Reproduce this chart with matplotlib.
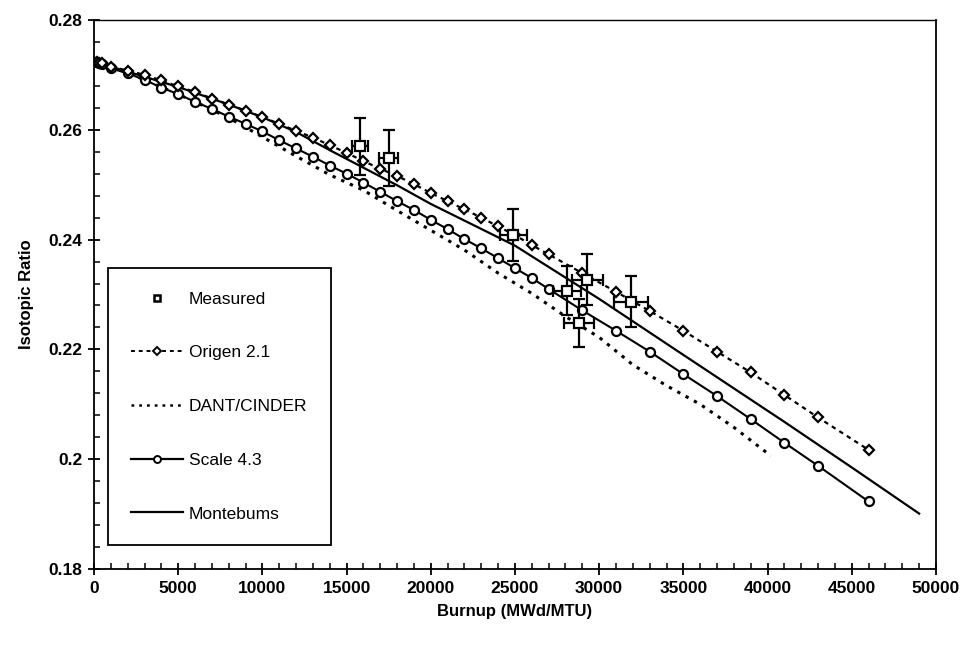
import matplotlib
matplotlib.use("Agg")
import matplotlib.pyplot as plt
from matplotlib.lines import Line2D
from matplotlib.ticker import FuncFormatter, MultipleLocator

plt.rcParams["font.family"] = ["Liberation Sans", "DejaVu Sans"]

# burnup steps shared by the Origen and Scale runs (MWd/MTU)
burnup_calc = [0, 150, 300, 450, 1000, 2000, 3000, 4000, 5000, 6000, 7000, 8000,
               9000, 10000, 11000, 12000, 13000, 14000, 15000, 16000, 17000, 18000,
               19000, 20000, 21000, 22000, 23000, 24000, 25000, 26000, 27000,
               29000, 31000, 33000, 35000, 37000, 39000, 41000, 43000, 46000]
origen = [0.2724, 0.2723, 0.2722, 0.2721, 0.2715, 0.2708, 0.2700, 0.2690, 0.2679,
          0.2669, 0.2657, 0.2646, 0.2635, 0.2623, 0.2611, 0.2598, 0.2586, 0.2572,
          0.2558, 0.2543, 0.2529, 0.2516, 0.2501, 0.2485, 0.2470, 0.2455, 0.2440,
          0.2424, 0.2408, 0.2390, 0.2373, 0.2339, 0.2305, 0.2270, 0.2234, 0.2196,
          0.2158, 0.2117, 0.2076, 0.2017]
scale = [0.2724, 0.2723, 0.2722, 0.2720, 0.2712, 0.2703, 0.2691, 0.2677, 0.2665,
         0.2651, 0.2638, 0.2624, 0.2611, 0.2597, 0.2581, 0.2566, 0.2551, 0.2535,
         0.2520, 0.2504, 0.2487, 0.2470, 0.2454, 0.2436, 0.2419, 0.2401, 0.2384,
         0.2366, 0.2348, 0.2330, 0.2310, 0.2271, 0.2234, 0.2196, 0.2155, 0.2115,
         0.2073, 0.2030, 0.1988, 0.1923]

dant_burnup = [0, 2000, 4000, 6000, 8000, 10000, 12000, 14000, 16000, 18000, 20000,
               22000, 24000, 26000, 28000, 30000, 32000, 34000, 36000, 38000, 40200]
dant = [0.2724, 0.2704, 0.2678, 0.2651, 0.2622, 0.2587, 0.2552, 0.2518, 0.2490,
        0.2453, 0.2417, 0.2381, 0.2339, 0.2302, 0.2260, 0.2222, 0.2172, 0.2134,
        0.2100, 0.2058, 0.2006]

mb_burnup = [0, 2000, 5000, 8000, 10000, 12000, 14000, 18000, 20000, 25000, 30000,
             35000, 41000, 45000, 49000]
monteburns = [0.2724, 0.2706, 0.2678, 0.2646, 0.2623, 0.2596, 0.2563, 0.2499, 0.2465,
              0.2389, 0.2292, 0.2190, 0.2068, 0.1985, 0.1901]

meas_burnup = [15800, 17500, 24900, 28100, 28800, 29300, 31900]
meas_ratio = [0.2570, 0.2549, 0.2408, 0.2307, 0.2248, 0.2327, 0.2287]
meas_xerr = [500, 550, 790, 850, 900, 900, 1000]
meas_yerr = [0.0052, 0.0051, 0.0047, 0.0045, 0.0043, 0.0047, 0.0046]

fig = plt.figure(figsize=(9.67, 6.5), dpi=100)
ax = fig.add_axes([0.0972, 0.1246, 0.8707, 0.8446])

ax.plot(mb_burnup, monteburns, color="black", lw=1.6)
ax.plot(dant_burnup, dant, color="black", lw=2.2, ls=(0, (1.1, 2.0)))
ax.plot(burnup_calc, scale, color="black", lw=1.5, marker="o", ms=6.5,
        mfc="white", mec="black", mew=1.6)
ax.plot(burnup_calc, origen, color="black", lw=1.6, ls=(0, (2, 2)), marker="D",
        ms=5.4, mfc="white", mec="black", mew=1.6)
ax.errorbar(meas_burnup, meas_ratio, xerr=meas_xerr, yerr=meas_yerr, fmt="s",
            ms=6.5, mfc="white", mec="black", mew=1.6, ecolor="black",
            elinewidth=1.6, capsize=4, capthick=1.6, zorder=4)

ax.set_xlim(0, 50000)
ax.set_ylim(0.18, 0.28)
ax.xaxis.set_major_locator(MultipleLocator(5000))
ax.xaxis.set_minor_locator(MultipleLocator(1000))
ax.yaxis.set_major_locator(MultipleLocator(0.02))
ax.yaxis.set_minor_locator(MultipleLocator(0.004))
ax.yaxis.set_major_formatter(FuncFormatter(lambda v, _: f"{round(v, 3):g}"))
ax.tick_params(which="major", direction="inout", length=9, width=1.3,
               labelsize=12.5, pad=4)
ax.tick_params(which="minor", direction="in", length=4, width=1.1)
for lbl in ax.get_xticklabels() + ax.get_yticklabels():
    lbl.set_fontweight("bold")
for side in ax.spines.values():
    side.set_linewidth(1.3)
ax.spines["top"].set_linewidth(1.0)

ax.set_xlabel("Burnup (MWd/MTU)", fontsize=12, fontweight="bold", labelpad=6)
ax.set_ylabel("Isotopic Ratio", fontsize=12, fontweight="bold", labelpad=10)

handles = [
    Line2D([], [], ls="none", marker="s", ms=5, mfc="white", mec="black", mew=1.8),
    Line2D([], [], color="black", lw=1.4, ls=(0, (2, 2)), marker="D", ms=4.5,
           mfc="white", mec="black", mew=1.4),
    Line2D([], [], color="black", lw=1.8, ls=(0, (1.1, 2.0))),
    Line2D([], [], color="black", lw=1.6, marker="o", ms=5, mfc="white",
           mec="black", mew=1.4),
    Line2D([], [], color="black", lw=1.6),
]
labels = ["Measured", "Origen 2.1", "DANT/CINDER", "Scale 4.3", "Montebums"]
leg = ax.legend(handles, labels, loc="upper left", bbox_to_anchor=(0.0166, 0.548),
                borderaxespad=0, frameon=True, fancybox=False, framealpha=1,
                edgecolor="black", fontsize=12.5, labelspacing=2.22, borderpad=1.35,
                handlelength=3.0, handletextpad=0.3)
leg.get_frame().set_linewidth(1.3)

fig.savefig("out.png", dpi=100)
